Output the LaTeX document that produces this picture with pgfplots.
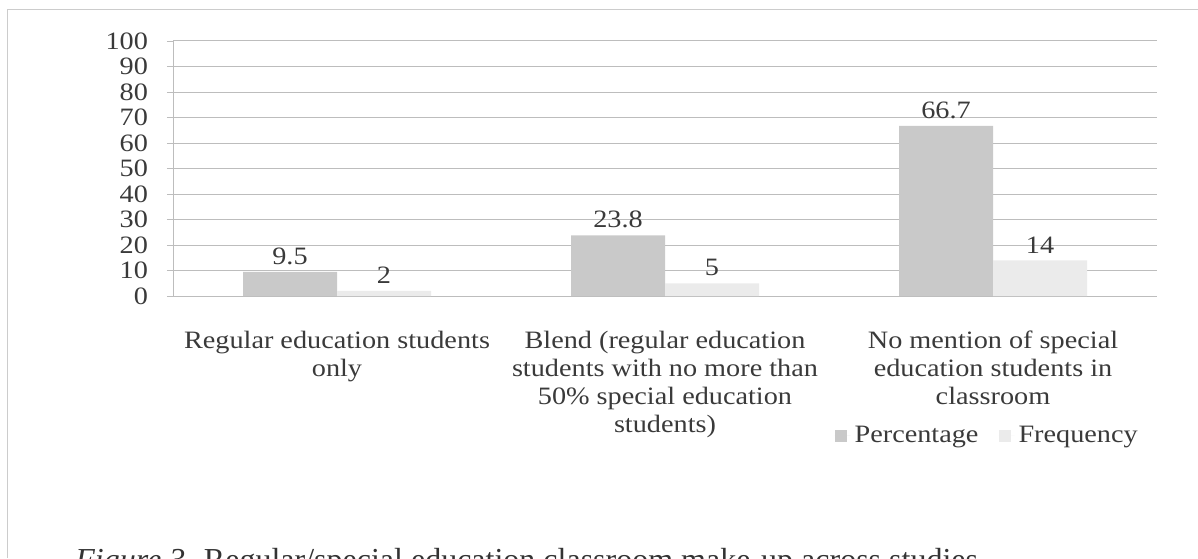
\documentclass[border=0pt]{standalone}
\usepackage{fontspec}
\setmainfont{Liberation Serif}[FakeStretch=1.13]
\newfontfamily\capfont{Liberation Serif}
\usepackage{pgfplots}
\pgfplotsset{compat=1.18}
\definecolor{txt}{HTML}{3A3A3A}
\definecolor{pct}{HTML}{C9C9C9}
\definecolor{frq}{HTML}{EBEBEB}
\definecolor{gridc}{HTML}{BDBDBD}
\newcommand\cf{\fontsize{12.5}{13.25}\selectfont}
\newcommand\cfl{\fontsize{12.5}{14.0}\selectfont}
\begin{document}
\begin{tikzpicture}[x=1pt,y=1pt]
\useasboundingbox (0,0) rectangle (599,279);
\draw[gray!40, line width=0.5pt] (3.5,0) -- (3.5,274) -- (599,274);
\begin{axis}[
  at={(86.5pt,131pt)}, anchor=south west,
  scale only axis, width=492pt, height=127.5pt,
  ybar, bar width=47pt,
  xmin=-0.5, xmax=2.5, ymin=0, ymax=100,
  ytick={0,10,...,100},
  xtick={0,1,2},
  xticklabels={{Regular education students\\only}, {Blend (regular education\\students with no more than\\50\% special education\\students)}, {No mention of special\\education students in\\classroom}},
  xticklabel style={align=center, font=\cfl, text=txt, yshift=-11pt},
  yticklabel style={font=\cf, text=txt, xshift=-6pt},
  major x tick style={draw=none},
  extra x ticks={-0.5,0.5,1.5,2.5},
  extra x tick labels={},
  extra x tick style={major tick length=4pt, xmajorgrids=false, tick style={draw=gridc}},
  axis x line=bottom, axis y line=left,
  axis line style={-, draw=gridc, line width=0.5pt},
  ymajorgrids, grid style={draw=gridc, line width=0.5pt},
  tick align=outside, major tick length=3pt, tick style={draw=gridc},
  /pgf/number format/assume math mode=true,
  nodes near coords,
  nodes near coords style={font=\cf, text=txt},
  legend style={at={(0.991,-0.549)}, anchor=east, draw=none, fill=none, font=\cf, text=txt,
    legend columns=2, /tikz/column 2/.style={column sep=8pt}},
]
\addplot[fill=pct, draw=none, bar shift=-23.5pt,
  legend image code/.code={\fill[pct] (0pt,-3pt) rectangle (6pt,3pt); \path (0pt,0pt) -- (8pt,0pt);}]
  coordinates {(0,9.5) (1,23.8) (2,66.7)};
\addplot[fill=frq, draw=none, bar shift=23.5pt,
  legend image code/.code={\fill[frq] (0pt,-3pt) rectangle (6pt,3pt); \path (0pt,0pt) -- (8pt,0pt);}]
  coordinates {(0,2) (1,5) (2,14)};
\legend{Percentage, Frequency}
\end{axis}
\node[anchor=base west, inner sep=0, text=black!80] at (37.5,-6)
  {\capfont\fontsize{16}{18}\selectfont\textit{Figure 3.} Regular/special education classroom make-up across studies};
\end{tikzpicture}
\end{document}
